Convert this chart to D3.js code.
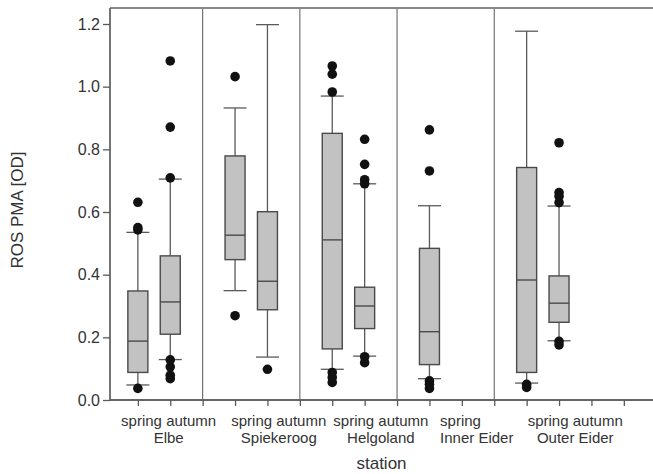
<!DOCTYPE html>
<html>
<head>
<meta charset="utf-8">
<script src="https://cdn.jsdelivr.net/npm/d3@7"></script>
<style>
  body { margin: 0; background: #fff; }
  text { font-family: "Liberation Sans", Arial, sans-serif; fill: #333; }
</style>
</head>
<body>
<svg id="chart" width="653" height="474"></svg>
<script>
// slot order along the x axis ("" = empty slot, "|" = station divider)
const slots = ["", "Elbe spring", "Elbe autumn", "|", "Spiekeroog spring", "Spiekeroog autumn", "|",
  "Helgoland spring", "Helgoland autumn", "|", "Inner Eider spring", "", "|",
  "Outer Eider spring", "Outer Eider autumn", ""];

const stations = ["Elbe", "Spiekeroog", "Helgoland", "Inner Eider", "Outer Eider"];
const seasonLabels = ["spring autumn", "spring autumn", "spring autumn", "spring", "spring autumn"];

// box statistics
const boxes = ["Elbe spring", "Elbe autumn", "Spiekeroog spring", "Spiekeroog autumn",
  "Helgoland spring", "Helgoland autumn", "Inner Eider spring", "Outer Eider spring", "Outer Eider autumn"];
const whiskerLow  = [0.048, 0.129, 0.349, 0.137, 0.098, 0.140, 0.068, 0.054, 0.189];
const q1          = [0.088, 0.210, 0.448, 0.288, 0.163, 0.228, 0.113, 0.088, 0.248];
const median      = [0.188, 0.313, 0.526, 0.379, 0.511, 0.300, 0.218, 0.383, 0.309];
const q3          = [0.348, 0.460, 0.779, 0.601, 0.851, 0.360, 0.484, 0.742, 0.396];
const whiskerHigh = [0.535, 0.705, 0.932, 1.198, 0.970, 0.690, 0.620, 1.177, 0.619];
const outliers = [
  [0.631, 0.550, 0.543, 0.037],
  [1.082, 0.871, 0.709, 0.128, 0.106, 0.079, 0.068],
  [1.032, 0.269],
  [0.098],
  [1.066, 1.040, 0.983, 0.088, 0.072, 0.056],
  [0.832, 0.752, 0.703, 0.690, 0.138, 0.119],
  [0.862, 0.731, 0.061, 0.050, 0.037],
  [0.050, 0.040],
  [0.821, 0.662, 0.650, 0.630, 0.187, 0.176]
];

const yTicks = [0.0, 0.2, 0.4, 0.6, 0.8, 1.0, 1.2];

const svg = d3.select("#chart");
const mLeft = 110, mRight = 653, mTop = 8, mBottom = 400;

// slot index -> pixel; frame starts a little right of slot 0
const x = d3.scaleLinear().domain([0.14, 16.9]).range([mLeft, mRight]);
const y = d3.scaleLinear().domain([0, 1.2]).range([mBottom, 24]);

const slotIndex = name => slots.indexOf(name);
const stationCenter = [1.95, 5.35, 8.5, 11.46, 14.5];

const lineCol = "#5a5a5a";

// station dividers
slots.forEach((s, i) => {
  if (s === "|") {
    svg.append("line")
      .attr("x1", x(i)).attr("x2", x(i))
      .attr("y1", mTop).attr("y2", mBottom)
      .attr("stroke", "#666").attr("stroke-width", 1.1);
  }
});

// frame: top line, y axis, x axis
svg.append("line").attr("x1", mLeft).attr("x2", mRight).attr("y1", mTop).attr("y2", mTop)
  .attr("stroke", "#888").attr("stroke-width", 2);

const yAxis = svg.append("g")
  .attr("transform", `translate(${mLeft},0)`)
  .call(d3.axisLeft(y).tickValues(yTicks).tickFormat(d3.format(".1f")).tickSize(7).tickPadding(3));
yAxis.select(".domain").attr("d", `M0,${mTop}V${mBottom}`).attr("stroke", "#666").attr("stroke-width", 1.8);
yAxis.selectAll(".tick line").attr("stroke", lineCol).attr("stroke-width", 1.3);
yAxis.selectAll(".tick text").attr("font-size", 16).attr("fill", "#333")
  .style("font-family", "'Liberation Sans', Arial, sans-serif");

const xAxis = svg.append("g")
  .attr("transform", `translate(0,${mBottom})`)
  .call(d3.axisBottom(x).tickValues(d3.range(1, slots.length + 1)).tickFormat("").tickSize(6));
xAxis.select(".domain").attr("d", `M${mLeft},0H${mRight}`).attr("stroke", "#666").attr("stroke-width", 1.8);
xAxis.selectAll(".tick line").attr("stroke", lineCol).attr("stroke-width", 1.3);

// category labels
const lab = svg.append("g").attr("font-size", 15);
stations.forEach((st, i) => {
  const cx = x(stationCenter[i]);
  const name = lab.append("text").attr("x", cx).attr("y", 443)
    .attr("text-anchor", "middle").text(st);
  if (seasonLabels[i] === "spring") {
    const w = name.node().getComputedTextLength();
    lab.append("text").attr("x", cx - w / 2).attr("y", 426).text(seasonLabels[i]);
  } else {
    lab.append("text").attr("x", cx).attr("y", 426)
      .attr("text-anchor", "middle").text(seasonLabels[i]);
  }
});

// axis titles
svg.append("text").attr("x", (mLeft + mRight) / 2).attr("y", 469)
  .attr("text-anchor", "middle").attr("font-size", 17).text("station");
svg.append("text")
  .attr("transform", `translate(23,${(mTop + mBottom) / 2 + 6}) rotate(-90)`)
  .attr("text-anchor", "middle").attr("font-size", 17).text("ROS PMA [OD]");

// boxes
const boxW = 20, capW = 23;
const g = svg.append("g");
boxes.forEach((b, i) => {
  const cx = x(slotIndex(b));
  const bg = g.append("g");
  // whiskers
  bg.append("line").attr("x1", cx).attr("x2", cx)
    .attr("y1", y(q3[i])).attr("y2", y(whiskerHigh[i]))
    .attr("stroke", lineCol).attr("stroke-width", 1.3);
  bg.append("line").attr("x1", cx).attr("x2", cx)
    .attr("y1", y(q1[i])).attr("y2", y(whiskerLow[i]))
    .attr("stroke", lineCol).attr("stroke-width", 1.3);
  [whiskerLow[i], whiskerHigh[i]].forEach(v => {
    bg.append("line").attr("x1", cx - capW / 2).attr("x2", cx + capW / 2)
      .attr("y1", y(v)).attr("y2", y(v))
      .attr("stroke", lineCol).attr("stroke-width", 1.3);
  });
  // box
  bg.append("rect")
    .attr("x", cx - boxW / 2).attr("width", boxW)
    .attr("y", y(q3[i])).attr("height", y(q1[i]) - y(q3[i]))
    .attr("fill", "#c2c2c2").attr("stroke", "#4a4a4a").attr("stroke-width", 1.4);
  bg.append("line").attr("x1", cx - boxW / 2).attr("x2", cx + boxW / 2)
    .attr("y1", y(median[i])).attr("y2", y(median[i]))
    .attr("stroke", "#4a4a4a").attr("stroke-width", 1.4);
  // outliers
  bg.selectAll("circle").data(outliers[i]).join("circle")
    .attr("cx", cx).attr("cy", d => y(d)).attr("r", 4.8)
    .attr("fill", "#111");
});
</script>
</body>
</html>
